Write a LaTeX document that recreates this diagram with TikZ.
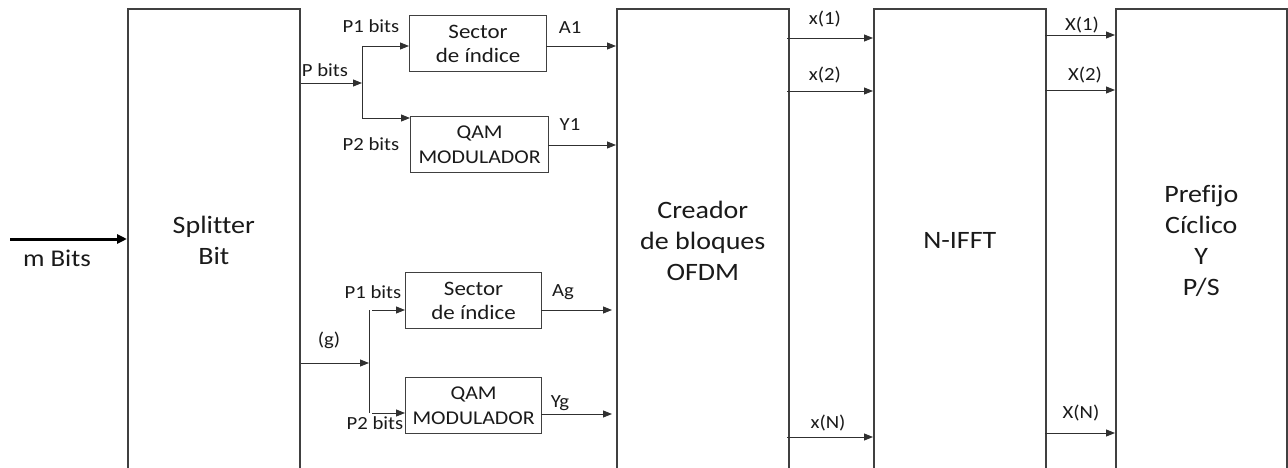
\documentclass[tikz,border=0pt]{standalone}
\usepackage{fontspec}
\setmainfont{Carlito}[FakeStretch=1.12,Ligatures=NoCommon]
\usetikzlibrary{arrows.meta}
\definecolor{boxc}{HTML}{404040}
\definecolor{linec}{HTML}{303030}
\definecolor{txt}{HTML}{1A1A1A}
\tikzset{
  bigbox/.style={draw=boxc,line width=1.6pt,minimum width=172pt,minimum height=464pt,anchor=north west,inner sep=0pt,align=center,text=txt,font=\fontsize{25}{31}\selectfont},
  smallbox/.style={draw=boxc,line width=1.2pt,anchor=north west,inner sep=0pt,align=center,text=txt,font=\fontsize{20.5}{24}\selectfont},
  qambox/.style={smallbox,font=\fontsize{19.5}{25}\selectfont},
  lbl/.style={text=txt,font=\fontsize{18.5}{22}\selectfont,inner sep=0pt},
  arr/.style={draw=linec,line width=0.9pt,-{Triangle[length=9pt,width=7pt]}},
  ln/.style={draw=linec,line width=0.9pt},
}
\begin{document}
\begin{tikzpicture}[x=1pt,y=-1pt]
\useasboundingbox (0,0) rectangle (1288,468);
\clip (0,0) rectangle (1288,468);
% big boxes
\node[bigbox] (split) at (127,8) {Splitter\\Bit};
\node[bigbox] (creador) at (616,8) {Creador\\de bloques\\OFDM};
\node[bigbox,minimum width=172pt] (ifft) at (873,8) {N-IFFT};
\node[bigbox,minimum width=171pt] (pref) at (1115,8) {Prefijo\\Cíclico\\Y\\P/S};
% small boxes
\node[smallbox,minimum width=137pt,minimum height=56pt] (sec1) at (409,15) {Sector\\de índice};
\node[qambox,minimum width=138pt,minimum height=56pt] (qam1) at (410,116) {QAM\\MODULADOR};
\node[smallbox,minimum width=136pt,minimum height=56pt] (sec2) at (405,272) {Sector\\de índice};
\node[qambox,minimum width=136pt,minimum height=56pt] (qam2) at (405,377) {QAM\\MODULADOR};
% input
\coordinate (min) at (10,239);
\draw[line width=3pt,-{Triangle[length=10pt,width=9pt]}] (min) -- (split.west |- min);
\node[text=txt,font=\fontsize{24}{28}\selectfont,inner sep=0pt] (mbits) at (57,258) {m Bits};
% upper branch
\coordinate (jP) at (362,83);
\coordinate (jP1) at (362,46);
\coordinate (jP2) at (362,118);
\draw[arr] (split.east |- jP) -- (jP);
\draw[ln] (jP1) -- (jP2);
\draw[arr] (jP1) -- (sec1.west |- jP1);
\draw[arr] (jP2) -- (qam1.west |- jP2);
\node[lbl] (lP) at (325,70) {P bits};
\node[lbl] (lP1) at (371,26) {P1 bits};
\node[lbl] (lP2) at (371,144) {P2 bits};
\coordinate (a1) at (546,46);
\draw[arr] (a1) -- (creador.west |- a1);
\node[lbl] (lA1) at (570,28) {A1};
\coordinate (y1) at (548,145);
\draw[arr] (y1) -- (creador.west |- y1);
\node[lbl] (lY1) at (570,125) {Y1};
% lower branch
\coordinate (jg) at (369,363);
\coordinate (jg1) at (369,310);
\coordinate (jg2) at (369,413);
\draw[arr] (split.east |- jg) -- (jg);
\draw[ln] (jg1) -- (jg2);
\draw[arr] ([xshift=3pt]jg1) -- (sec2.west |- jg1);
\draw[arr] ([xshift=3pt]jg2) -- (qam2.west |- jg2);
\node[lbl] (lg) at (329,340) {(g)};
\node[lbl] (lP1b) at (373,292) {P1 bits};
\node[lbl] (lP2b) at (375,423) {P2 bits};
\coordinate (ag) at (541,310);
\draw[arr,shorten >=4pt] (ag) -- (creador.west |- ag);
\node[lbl] (lAg) at (563,292) {Ag};
\coordinate (yg) at (541,414);
\draw[arr,shorten >=4pt] (yg) -- (creador.west |- yg);
\node[lbl] (lYg) at (560,403) {Yg};
% creador -> ifft
\coordinate (x1) at (787,38);
\coordinate (x2) at (787,91);
\coordinate (xN) at (787,437);
\draw[arr] (x1) -- (ifft.west |- x1);
\draw[arr] (x2) -- (ifft.west |- x2);
\draw[arr] (xN) -- (ifft.west |- xN);
\node[lbl] (lx1) at (825,19) {x(1)};
\node[lbl] (lx2) at (825,75) {x(2)};
\node[lbl] (lxN) at (828,423) {x(N)};
% ifft -> pref
\coordinate (X1) at (1045,35);
\coordinate (X2) at (1045,90);
\coordinate (XN) at (1045,433);
\draw[arr] (X1) -- (pref.west |- X1);
\draw[arr] (X2) -- (pref.west |- X2);
\draw[arr] (XN) -- (pref.west |- XN);
\node[lbl] (lX1) at (1082,25) {X(1)};
\node[lbl] (lX2) at (1085,75) {X(2)};
\node[lbl] (lXN) at (1081,413) {X(N)};
\end{tikzpicture}
\end{document}
